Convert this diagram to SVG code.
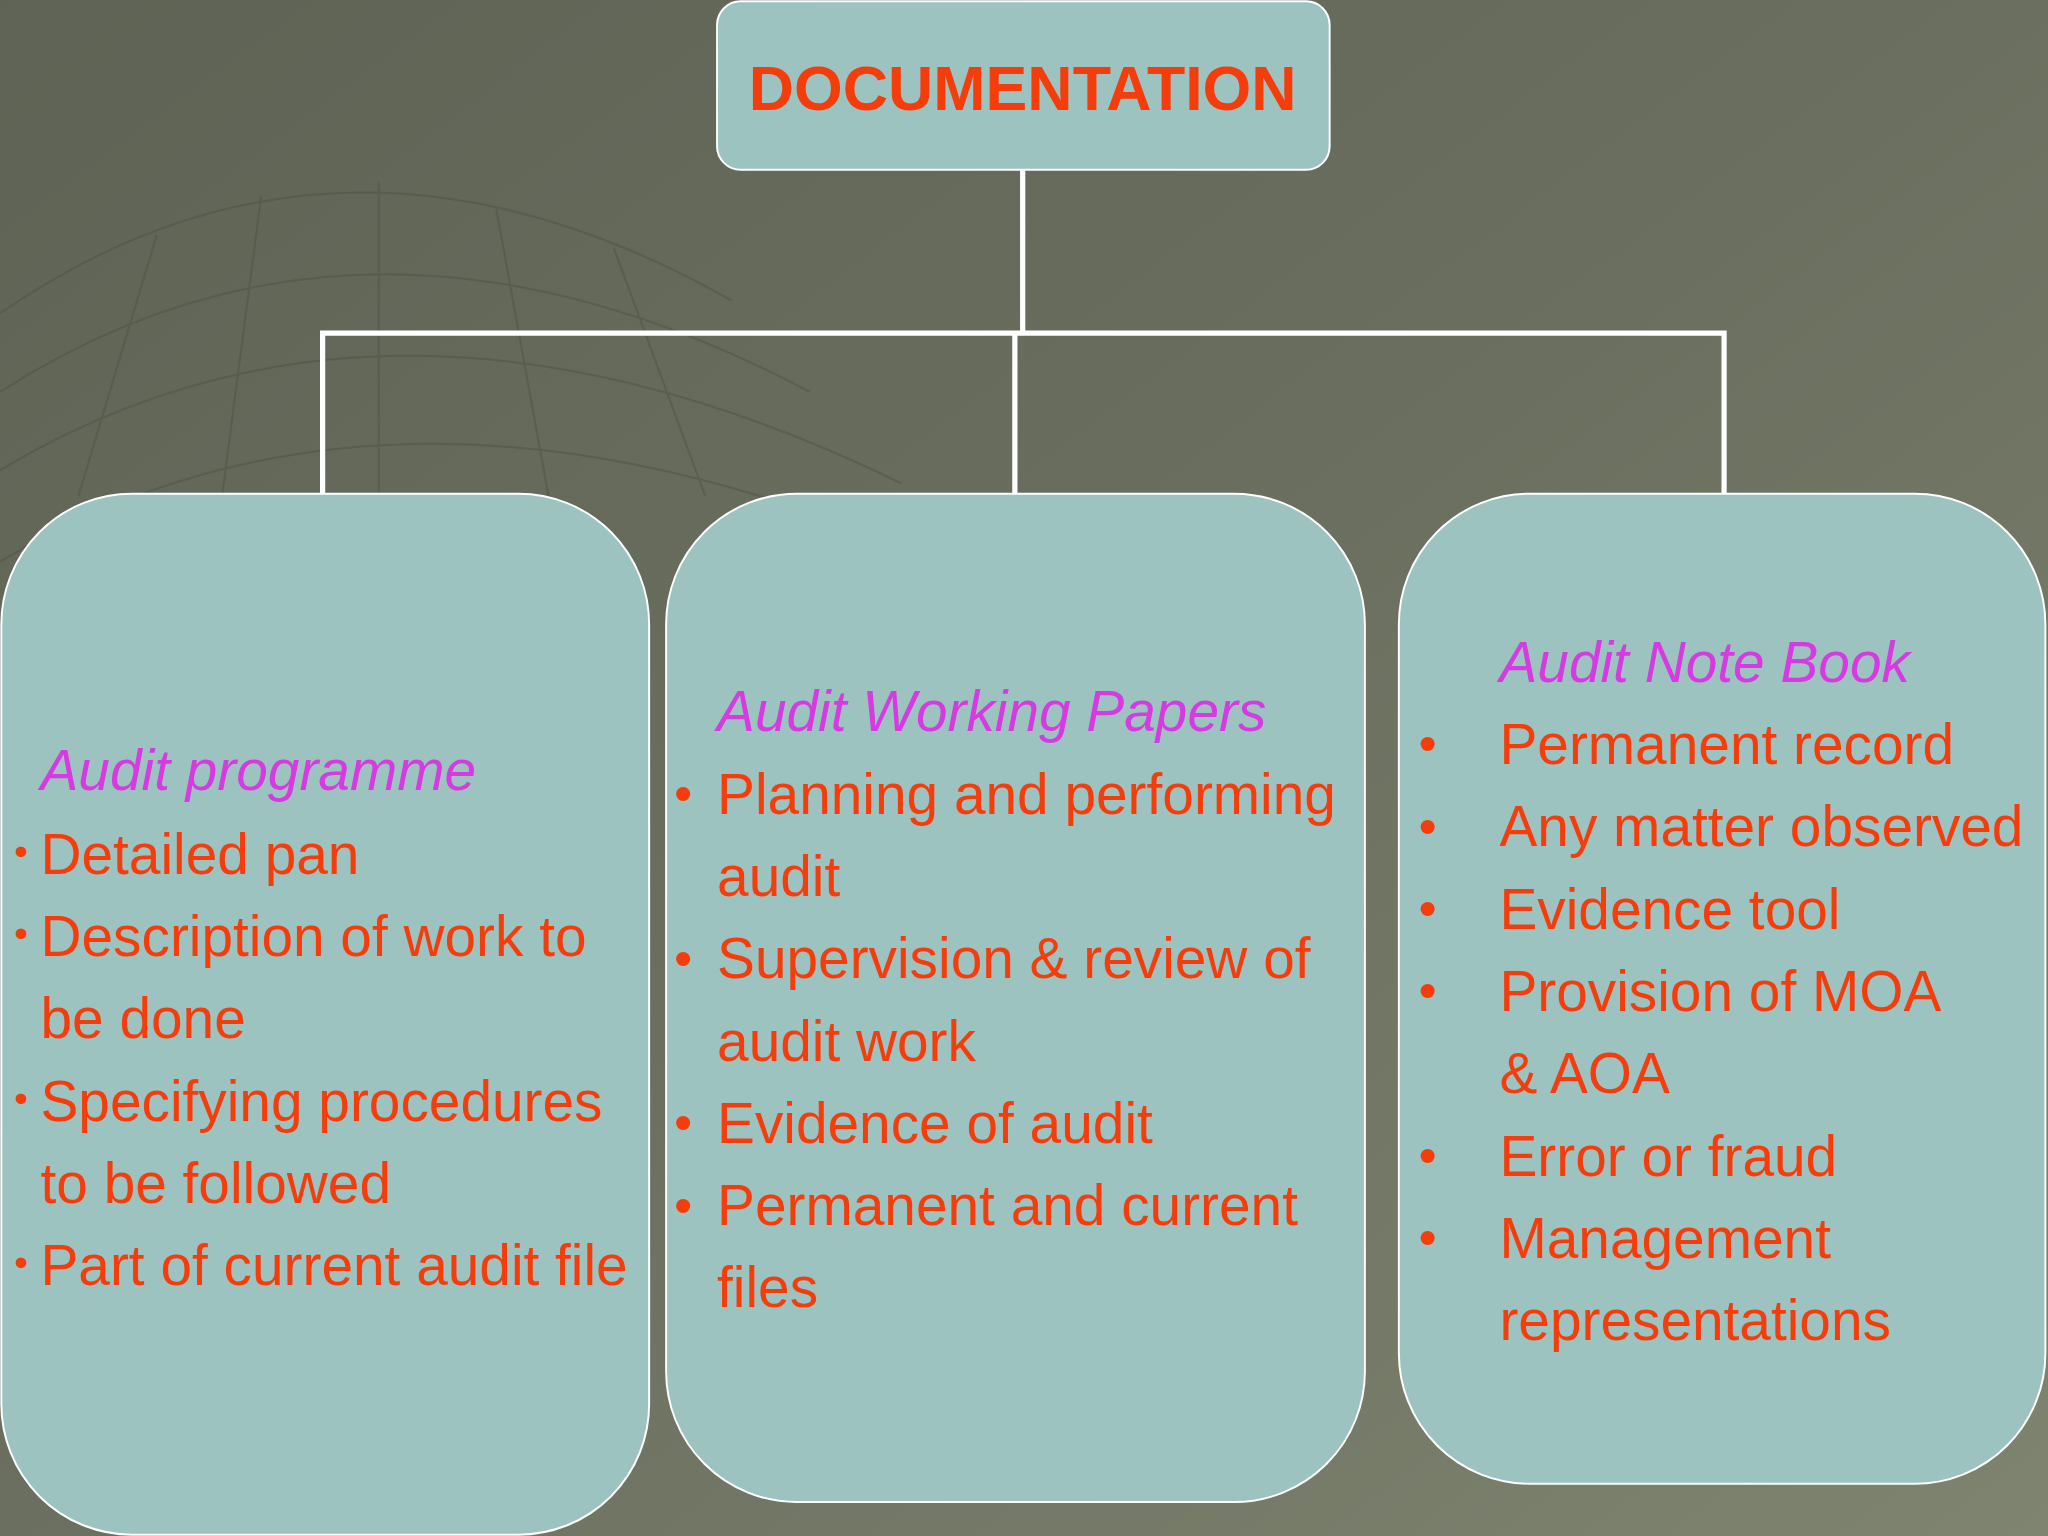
<svg xmlns="http://www.w3.org/2000/svg" width="2048" height="1536" viewBox="0 0 2048 1536">
<defs>
<linearGradient id="bg" x1="0" y1="0" x2="1" y2="1">
<stop offset="0" stop-color="#5e6355"/><stop offset="0.5" stop-color="#6a6f5f"/><stop offset="1" stop-color="#7f8470"/>
</linearGradient>
<style>
.box{fill:#9dc3c1;stroke:#ffffff;stroke-width:1.5}
.t{font-family:"Liberation Sans",Arial,sans-serif;font-size:43.5px;fill:#f53d0c}
.b{font-family:"Liberation Sans",Arial,sans-serif;font-size:30px;fill:#f53d0c}
.b2{font-family:"Liberation Sans",Arial,sans-serif;font-size:40px;fill:#f53d0c}
.h{font-family:"Liberation Sans",Arial,sans-serif;font-size:43.5px;font-style:italic;fill:#d63ae0}
.c{stroke:#ffffff;stroke-width:4;fill:none}
.g{stroke:#4f5448;stroke-width:1.5;fill:none;opacity:0.5}
</style>
</defs>
<rect width="2048" height="1536" fill="url(#bg)"/>
<g transform="scale(1.30612)">
<g class="g">
<path d="M0 240 Q260 60 560 230"/><path d="M0 300 Q280 120 620 300"/><path d="M0 360 Q300 180 690 370"/><path d="M0 430 Q320 240 760 450"/>
<path d="M120 180 L60 380"/><path d="M200 150 L170 380"/><path d="M290 140 L290 380"/><path d="M380 160 L420 380"/><path d="M470 190 L540 380"/>
</g>
<g id="connectors">
<path class="c" d="M783 130 V255 M247 378 V255 H1320 V378 M777 255 V378"/>
</g>
<g id="documentation">
<rect class="box" x="549" y="1" width="469" height="129" rx="18"/>
<text x="783" y="84" text-anchor="middle" font-family="Liberation Sans,Arial,sans-serif" font-weight="bold" font-size="48" fill="#f53d0c">DOCUMENTATION</text>
</g>
<g id="audit-programme">
<rect class="box" x="1" y="378" width="496" height="797" rx="100"/>
<text class="h" x="31" y="605">Audit programme</text>
<text class="b" x="11" y="662">•</text><text class="t" x="31" y="669">Detailed pan</text>
<text class="b" x="11" y="725">•</text><text class="t" x="31" y="732">Description of work to</text>
<text class="t" x="31" y="795">be done</text>
<text class="b" x="11" y="851">•</text><text class="t" x="31" y="858">Specifying procedures</text>
<text class="t" x="31" y="921">to be followed</text>
<text class="b" x="11" y="977">•</text><text class="t" x="31" y="984">Part of current audit file</text>
</g>
<g id="audit-working-papers">
<rect class="box" x="510" y="378" width="535" height="772" rx="100"/>
<text class="h" x="549" y="560">Audit Working Papers</text>
<text class="b2" x="516" y="621">•</text><text class="t" x="549" y="623">Planning and performing</text>
<text class="t" x="549" y="686">audit</text>
<text class="b2" x="516" y="747">•</text><text class="t" x="549" y="749">Supervision &amp; review of</text>
<text class="t" x="549" y="812">audit work</text>
<text class="b2" x="516" y="873">•</text><text class="t" x="549" y="875">Evidence of audit</text>
<text class="b2" x="516" y="936">•</text><text class="t" x="549" y="938">Permanent and current</text>
<text class="t" x="549" y="1001">files</text>
</g>
<g id="audit-note-book">
<rect class="box" x="1071" y="378" width="495" height="758" rx="100"/>
<text class="h" x="1148" y="522">Audit Note Book</text>
<text class="b2" x="1086" y="583">•</text><text class="t" x="1148" y="585">Permanent record</text>
<text class="b2" x="1086" y="646">•</text><text class="t" x="1148" y="648">Any matter observed</text>
<text class="b2" x="1086" y="709">•</text><text class="t" x="1148" y="711">Evidence tool</text>
<text class="b2" x="1086" y="772">•</text><text class="t" x="1148" y="774">Provision of MOA</text>
<text class="t" x="1148" y="837">&amp; AOA</text>
<text class="b2" x="1086" y="898">•</text><text class="t" x="1148" y="900">Error or fraud</text>
<text class="b2" x="1086" y="961">•</text><text class="t" x="1148" y="963">Management</text>
<text class="t" x="1148" y="1026">representations</text>
</g>
</g>
</svg>
